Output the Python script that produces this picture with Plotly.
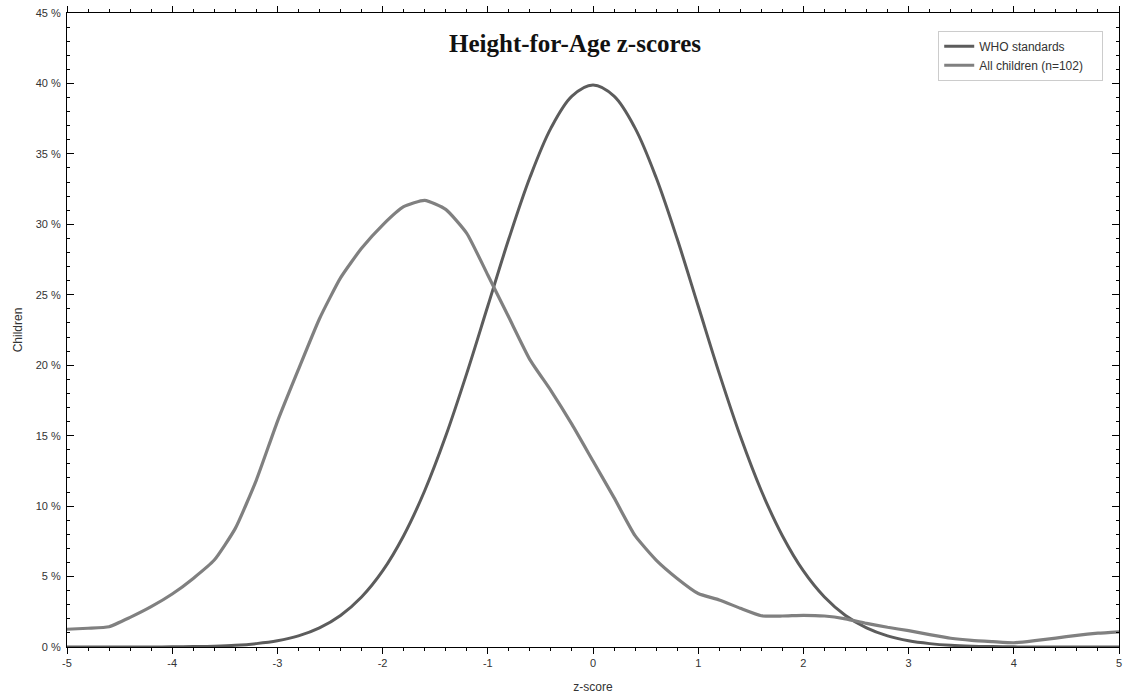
import plotly.graph_objects as go

# z-score positions (step 0.2)
z_scores = [round(-5 + 0.2 * i, 1) for i in range(51)]

# WHO standards (% of children)
who_standards = [
    0.00, 0.00, 0.00, 0.00, 0.00,      # -5.0 -4.8 -4.6 -4.4 -4.2
    0.01, 0.03, 0.06, 0.12, 0.24,      # -4.0 -3.8 -3.6 -3.4 -3.2
    0.44, 0.79, 1.36, 2.24, 3.55,      # -3.0 -2.8 -2.6 -2.4 -2.2
    5.40, 7.90, 11.09, 14.97, 19.42,   # -2.0 -1.8 -1.6 -1.4 -1.2
    24.20, 28.97, 33.32, 36.83, 39.10, # -1.0 -0.8 -0.6 -0.4 -0.2
    39.89,                             # 0.0
    39.10, 36.83, 33.32, 28.97, 24.20, # 0.2 .. 1.0
    19.42, 14.97, 11.09, 7.90, 5.40,   # 1.2 .. 2.0
    3.55, 2.24, 1.36, 0.79, 0.44,      # 2.2 .. 3.0
    0.24, 0.12, 0.06, 0.03, 0.01,      # 3.2 .. 4.0
    0.00, 0.00, 0.00, 0.00, 0.00,      # 4.2 .. 5.0
]

# All children (n=102), % of children
all_children = [
    1.26, 1.33, 1.44, 2.10, 2.86,      # -5.0 .. -4.2
    3.76, 4.87, 6.17, 8.42, 11.85,     # -4.0 .. -3.2
    16.00, 19.70, 23.30, 26.20, 28.30, # -3.0 .. -2.2
    29.95, 31.25, 31.70, 31.06, 29.36, # -2.0 .. -1.2
    26.40, 23.40, 20.40, 18.20, 15.80, # -1.0 .. -0.2
    13.20,                             # 0.0
    10.60, 7.90, 6.17, 4.87, 3.80,     # 0.2 .. 1.0
    3.34, 2.75, 2.22, 2.20, 2.25,      # 1.2 .. 2.0
    2.20, 2.00, 1.68, 1.40, 1.16,      # 2.2 .. 3.0
    0.88, 0.62, 0.47, 0.38, 0.30,      # 3.2 .. 4.0
    0.45, 0.63, 0.83, 0.98, 1.08,      # 4.2 .. 5.0
]

series_names = ["WHO standards", "All children (n=102)"]

x_tick_vals = [-5, -4, -3, -2, -1, 0, 1, 2, 3, 4, 5]
x_tick_text = ["-5", "-4", "-3", "-2", "-1", "0", "1", "2", "3", "4", "5"]
y_tick_vals = [0, 5, 10, 15, 20, 25, 30, 35, 40, 45]
y_tick_text = ["0 %", "5 %", "10 %", "15 %", "20 %", "25 %", "30 %", "35 %", "40 %", "45 %"]

PAD = "\u00a0" * 4

fig = go.Figure()
fig.add_trace(go.Scatter(
    x=z_scores, y=who_standards, mode="lines", name=series_names[0] + PAD,
    line=dict(color="#5c5c5c", width=3, shape="spline", smoothing=1.0),
))
fig.add_trace(go.Scatter(
    x=z_scores, y=all_children, mode="lines", name=series_names[1] + PAD,
    line=dict(color="#808080", width=3.2, shape="spline", smoothing=0.5),
))

fig.add_annotation(
    text="<b>Height-for-Age z-scores</b>", xref="paper", yref="paper",
    x=0.483, y=0.952, xanchor="center", yanchor="middle", showarrow=False,
    font=dict(family="Liberation Serif, Times New Roman, serif", size=25, color="#111111"),
)

axis_font = dict(family="Liberation Sans, Arial, sans-serif", size=11, color="#333333")

fig.update_layout(
    width=1131, height=694,
    margin=dict(l=67, r=12, t=13, b=47),
    paper_bgcolor="white", plot_bgcolor="white",
    showlegend=True,
    legend=dict(
        x=0.985, y=0.972, xanchor="right", yanchor="top",
        bgcolor="white", bordercolor="#cccccc", borderwidth=1,
        font=dict(family="Liberation Sans, Arial, sans-serif", size=12, color="#333333"),
        itemwidth=30, tracegroupgap=2,
    ),
    font=axis_font,
)

fig.update_xaxes(
    range=[-5, 5], tickvals=x_tick_vals, ticktext=x_tick_text,
    showgrid=False, zeroline=False, automargin=False, ticklabeloverflow="allow",
    showline=True, linecolor="black", linewidth=1, mirror="allticks",
    ticks="outside", ticklen=6, tickwidth=1, tickcolor="black",
    minor=dict(dtick=0.2, ticks="outside", ticklen=3, tickwidth=1, tickcolor="black", showgrid=False),
    title=dict(text="z-score", font=dict(size=12, color="#333333"), standoff=14),
    tickfont=axis_font,
)
fig.update_yaxes(
    range=[0, 45], tickvals=y_tick_vals, ticktext=y_tick_text,
    showgrid=False, zeroline=False, automargin=False, ticklabeloverflow="allow",
    showline=True, linecolor="black", linewidth=1, mirror="allticks",
    ticks="inside", ticklen=7, tickwidth=1, tickcolor="black",
    minor=dict(dtick=1, ticks="inside", ticklen=3, tickwidth=1, tickcolor="black", showgrid=False),
    title=dict(text="Children", font=dict(size=12, color="#333333"), standoff=10),
    tickfont=axis_font, ticklabelstandoff=3,
)

# remove the default 8px page margin so the figure sits at the window's corner
fig.write_html(
    "out.html",
    config={"displayModeBar": False},
    post_script="document.body.style.margin='0';document.body.style.overflow='hidden';",
)
